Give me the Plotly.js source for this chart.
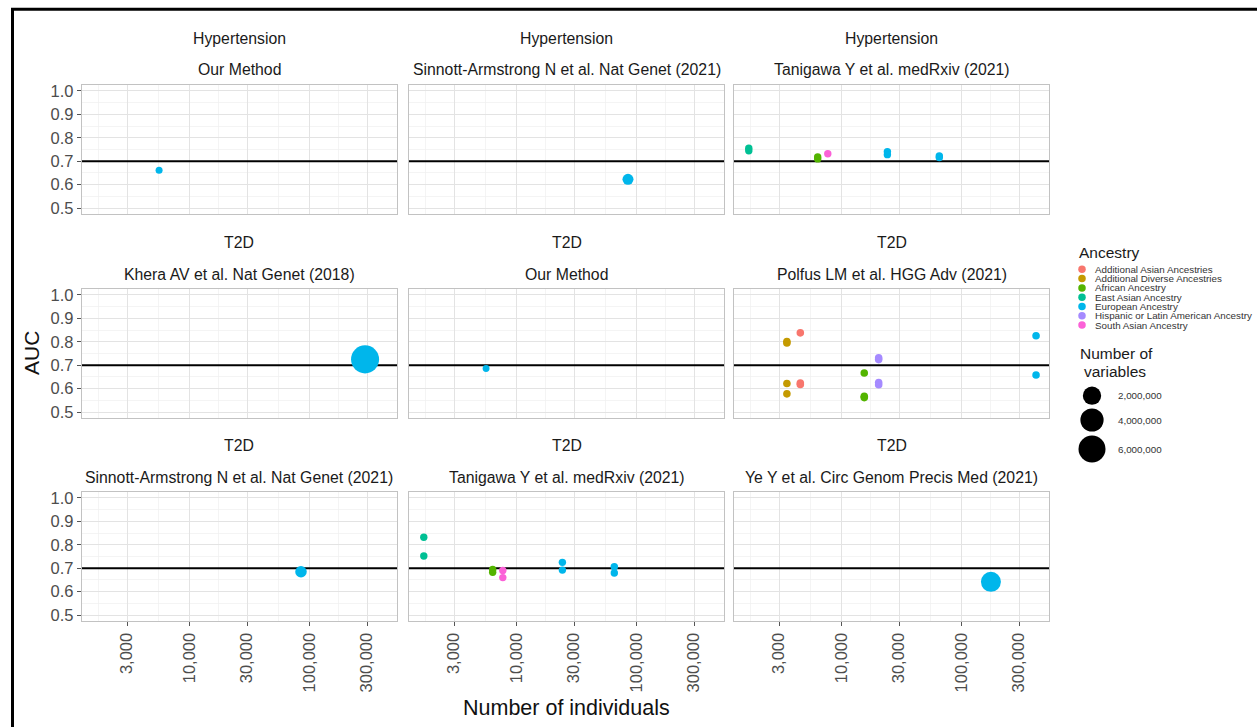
<!DOCTYPE html>
<html>
<head>
<meta charset="utf-8">
<script src="https://cdn.plot.ly/plotly-3.0.1.min.js"></script>
<style>
html,body{margin:0;padding:0;background:#fff;}
#chart{width:1257px;height:727px;}
</style>
</head>
<body>
<div id="chart"></div>
<script>
// ---------------- DATA ----------------
const ancestryNames = ['Additional Asian Ancestries','Additional Diverse Ancestries','African Ancestry','East Asian Ancestry','European Ancestry','Hispanic or Latin American Ancestry','South Asian Ancestry'];
const ancestryColors = ['#F8766D','#C49A00','#53B400','#00C094','#00B6EB','#A58AFF','#FB61D7'];

const panelDisease = ['Hypertension','Hypertension','Hypertension','T2D','T2D','T2D','T2D','T2D','T2D'];
const panelStudy = ['Our Method','Sinnott-Armstrong N et al. Nat Genet (2021)','Tanigawa Y et al. medRxiv (2021)',
  'Khera AV et al. Nat Genet (2018)','Our Method','Polfus LM et al. HGG Adv (2021)',
  'Sinnott-Armstrong N et al. Nat Genet (2021)','Tanigawa Y et al. medRxiv (2021)','Ye Y et al. Circ Genom Precis Med (2021)'];

// ancestry codes: 0 AddAsian,1 AddDiverse,2 African,3 EastAsian,4 European,5 Hispanic,6 SouthAsian
const pointPanel    = [0, 1,
  2,2,2,2,2,2,2,2,2,
  3, 4,
  5,5,5,5,5,5,5,5,5,5,5,5,5,5,5,5,
  6,
  7,7,7,7,7,7,7,7,7,7,
  8];
const pointAncestry = [4, 4,
  3,3,2,2,6,4,4,4,4,
  4, 4,
  0,0,0,1,1,1,1,2,2,2,5,5,5,5,4,4,
  4,
  3,3,2,2,6,6,4,4,4,4,
  4];
const nIndividuals  = [5550, 84500,
  1680,1680,6300,6300,7650,24000,24000,65000,65000,
  288978, 5550,
  4515,4515,4515,3490,3490,3490,3490,15400,15400,15400,20300,20300,20300,20300,416000,416000,
  84500,
  1680,1680,6300,6300,7650,7650,24000,24000,65000,65000,
  175000];
const aucValues     = [0.661, 0.623,
  0.755,0.745,0.718,0.710,0.732,0.741,0.728,0.722,0.716,
  0.725, 0.686,
  0.838,0.624,0.618,0.801,0.795,0.622,0.578,0.667,0.568,0.562,0.732,0.724,0.626,0.617,0.826,0.658,
  0.685,
  0.832,0.752,0.695,0.683,0.690,0.660,0.725,0.692,0.706,0.680,
  0.642];
const nVariables    = [5000, 300000,
  15000,15000,15000,15000,15000,15000,15000,15000,15000,
  6630150, 3000,
  20000,20000,20000,20000,20000,20000,20000,20000,20000,20000,20000,20000,20000,20000,20000,20000,
  370000,
  15000,15000,15000,15000,15000,15000,15000,15000,15000,15000,
  2600000];

const xTickVals = [3000,10000,30000,100000,300000];
const xTickText = ['3,000','10,000','30,000','100,000','300,000'];
const xMinorVals = [1732,5477,17321,54772,173205];
const yTickVals = [0.5,0.6,0.7,0.8,0.9,1.0];
const yTickText = ['0.5','0.6','0.7','0.8','0.9','1.0'];
const yMinorVals = [0.55,0.65,0.75,0.85,0.95];
const sizeLegendVals = [2000000,4000000,6000000];
const sizeLegendText = ['2,000,000','4,000,000','6,000,000'];
const refAUC = 0.7;

// ---------------- LAYOUT GEOMETRY ----------------
const W = 1257, H = 727;
const FONT = 'Liberation Sans, Arial, Helvetica, sans-serif';
const colLeft = [82, 409, 734], panelW = 315;
const rowTop = [85, 289, 492], panelH = 129;
const xRangeLog = [3.102, 5.727], yRange = [0.475, 1.025];
const SIZE_MIN = 6.4, SIZE_MAX = 28.05, V_MAX = 6630150;
function sizePx(v){ return SIZE_MIN + (SIZE_MAX - SIZE_MIN) * Math.sqrt(Math.max(v,0) / V_MAX); }
const fx = px => px / W;
const fy = py => 1 - py / H;

const data = [];
const layout = {
  width: W, height: H,
  margin: {l:0, r:0, t:0, b:0},
  paper_bgcolor: '#ffffff', plot_bgcolor: 'rgba(0,0,0,0)',
  showlegend: false,
  font: {family: FONT, color: '#1A1A1A'},
  annotations: [], shapes: []
};

for (let p = 0; p < 9; p++) {
  const r = Math.floor(p / 3), c = p % 3;
  const sfx = p === 0 ? '' : String(p + 1);
  const xid = 'x' + sfx, yid = 'y' + sfx;
  const idx = [];
  pointPanel.forEach((pp, i) => { if (pp === p) idx.push(i); });
  // reference line (above grid, below points)
  data.push({
    type: 'scatter', mode: 'lines', xaxis: xid, yaxis: yid,
    x: [Math.pow(10, xRangeLog[0]), Math.pow(10, xRangeLog[1])], y: [refAUC, refAUC],
    line: {color: '#000000', width: 2}, showlegend: false, hoverinfo: 'skip', cliponaxis: true
  });
  data.push({
    type: 'scatter', mode: 'markers', xaxis: xid, yaxis: yid,
    x: idx.map(i => nIndividuals[i]), y: idx.map(i => aucValues[i]),
    text: idx.map(i => ancestryNames[pointAncestry[i]]),
    marker: {color: idx.map(i => ancestryColors[pointAncestry[i]]), size: idx.map(i => sizePx(nVariables[i])), opacity: 1, line: {width: 0}},
    cliponaxis: false, showlegend: false, hoverinfo: 'x+y+text'
  });
  const L = colLeft[c], T = rowTop[r];
  layout['xaxis' + sfx] = {
    type: 'log', range: xRangeLog, domain: [fx(L), fx(L + panelW)], anchor: yid,
    tickmode: 'array', tickvals: xTickVals, ticktext: xTickText,
    showticklabels: r === 2, ticks: r === 2 ? 'outside' : '', ticklen: 4, tickcolor: '#555', tickwidth: 1,
    tickangle: -90, tickfont: {size: 16.5, color: '#4D4D4D', family: FONT},
    showgrid: true, gridcolor: '#E3E3E3', gridwidth: 1,
    minor: {tickmode: 'array', tickvals: xMinorVals, showgrid: true, gridcolor: '#F0F0F0', gridwidth: 0.7},
    showline: true, linecolor: '#C2C2C2', linewidth: 1.2, mirror: true, zeroline: false, fixedrange: true
  };
  layout['yaxis' + sfx] = {
    range: yRange, domain: [fy(T + panelH), fy(T)], anchor: xid,
    tickmode: 'array', tickvals: yTickVals, ticktext: yTickText,
    showticklabels: c === 0, ticks: c === 0 ? 'outside' : '', ticklen: 4, tickcolor: '#555', tickwidth: 1,
    tickfont: {size: 16.5, color: '#4D4D4D', family: FONT},
    showgrid: true, gridcolor: '#E3E3E3', gridwidth: 1,
    minor: {tickmode: 'array', tickvals: yMinorVals, showgrid: true, gridcolor: '#F0F0F0', gridwidth: 0.7},
    showline: true, linecolor: '#C2C2C2', linewidth: 1.2, mirror: true, zeroline: false, fixedrange: true
  };
  // strip labels
  layout.annotations.push({xref: 'paper', yref: 'paper', x: fx(L + panelW / 2), y: fy(T - 47), text: panelDisease[p],
    showarrow: false, xanchor: 'center', yanchor: 'middle', font: {size: 15.8, color: '#1A1A1A', family: FONT}});
  layout.annotations.push({xref: 'paper', yref: 'paper', x: fx(L + panelW / 2), y: fy(T - 15), text: panelStudy[p],
    showarrow: false, xanchor: 'center', yanchor: 'middle', font: {size: 15.8, color: '#1A1A1A', family: FONT}});
}

// axis titles
layout.annotations.push({xref: 'paper', yref: 'paper', x: fx(31), y: fy(353), text: 'AUC', textangle: -90,
  showarrow: false, xanchor: 'center', yanchor: 'middle', font: {size: 21, color: '#111', family: FONT}});
layout.annotations.push({xref: 'paper', yref: 'paper', x: fx(566), y: fy(708), text: 'Number of individuals',
  showarrow: false, xanchor: 'center', yanchor: 'middle', font: {size: 21.5, color: '#111', family: FONT}});

// outer frame (top and left black rules)
layout.shapes.push({type: 'line', xref: 'paper', yref: 'paper', x0: fx(11), x1: 1, y0: fy(9.3), y1: fy(9.3), line: {color: '#000', width: 3}});
layout.shapes.push({type: 'line', xref: 'paper', yref: 'paper', x0: fx(12.5), x1: fx(12.5), y0: 0, y1: fy(8), line: {color: '#000', width: 3}});

// ---------------- LEGENDS (overlay pixel axes) ----------------
layout.xaxis10 = {domain: [0, 1], range: [0, W], visible: false, fixedrange: true, anchor: 'y10'};
layout.yaxis10 = {domain: [0, 1], range: [H, 0], visible: false, fixedrange: true, anchor: 'x10'};

const legX = 1077, keyX = 1082, textX = 1093, entry0 = 269.3, entryStep = 9.3;
layout.annotations.push({xref: 'paper', yref: 'paper', x: fx(legX), y: fy(252), text: 'Ancestry',
  showarrow: false, xanchor: 'left', yanchor: 'middle', font: {size: 15.5, color: '#1A1A1A', family: FONT}});
data.push({
  type: 'scatter', mode: 'markers', xaxis: 'x10', yaxis: 'y10',
  x: ancestryNames.map(() => keyX), y: ancestryNames.map((_, i) => entry0 + i * entryStep),
  marker: {color: ancestryColors, size: 7.5, opacity: 1, line: {width: 0}}, showlegend: false, hoverinfo: 'skip', cliponaxis: false
});
ancestryNames.forEach((nm, i) => {
  layout.annotations.push({xref: 'paper', yref: 'paper', x: fx(textX), y: fy(entry0 + i * entryStep), text: nm,
    showarrow: false, xanchor: 'left', yanchor: 'middle', font: {size: 9.8, color: '#333', family: FONT}});
});

layout.annotations.push({xref: 'paper', yref: 'paper', x: fx(1078), y: fy(353), text: 'Number of',
  showarrow: false, xanchor: 'left', yanchor: 'middle', font: {size: 15.5, color: '#1A1A1A', family: FONT}});
layout.annotations.push({xref: 'paper', yref: 'paper', x: fx(1082), y: fy(371), text: 'variables',
  showarrow: false, xanchor: 'left', yanchor: 'middle', font: {size: 15.5, color: '#1A1A1A', family: FONT}});
const sizeKeyY = [395.7, 420, 449];
data.push({
  type: 'scatter', mode: 'markers', xaxis: 'x10', yaxis: 'y10',
  x: sizeLegendVals.map(() => 1092), y: sizeKeyY,
  marker: {color: '#000000', size: sizeLegendVals.map(sizePx), opacity: 1, line: {width: 0}}, showlegend: false, hoverinfo: 'skip', cliponaxis: false
});
sizeLegendText.forEach((t, i) => {
  layout.annotations.push({xref: 'paper', yref: 'paper', x: fx(1116), y: fy(sizeKeyY[i]), text: t,
    showarrow: false, xanchor: 'left', yanchor: 'middle', font: {size: 9.8, color: '#333', family: FONT}});
});

Plotly.newPlot('chart', data, layout, {displayModeBar: false, staticPlot: true});
</script>
</body>
</html>
